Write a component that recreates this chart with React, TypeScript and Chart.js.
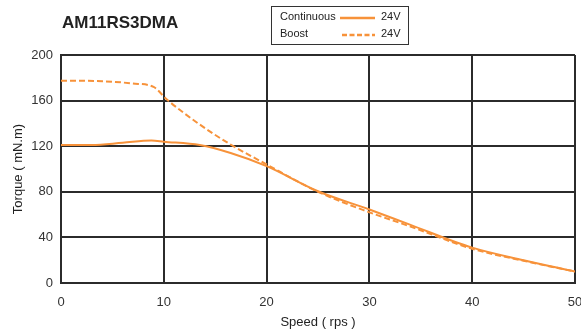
import React, { useEffect, useRef } from "react";
import { Chart, registerables } from "chart.js";

Chart.register(...registerables);

const TITLE = "AM11RS3DMA";
const X_LABEL = "Speed ( rps )";
const Y_LABEL = "Torque ( mN.m)";

const contSpeed = [0, 3, 6, 8.8, 10, 13.5, 16.5, 20, 25, 30, 34, 40, 45, 50];
const contTorque = [121, 121, 123, 125, 124, 121, 114, 102.5, 80.5, 64.5, 51, 31, 20, 10];

const boostSpeed = [0, 4, 7, 9, 10.3, 13.5, 16.4, 20, 25, 30, 34, 40, 45, 50];
const boostTorque = [177.5, 177, 175, 172, 161, 139, 122, 104, 80, 62, 49.5, 30, 19.5, 10];

const legendNames = ["Continuous", "Boost"];
const legendVoltage = ["24V", "24V"];

const ORANGE = "#F7923A";
const GRID = "#2b2b2b";
const FONT = "'Liberation Sans', Arial, sans-serif";

const overlayPlugin = {
  id: "overlay",
  afterDraw(chart: any) {
    const ctx = chart.ctx;
    ctx.save();
    ctx.fillStyle = "#222";
    ctx.font = `bold 17px ${FONT}`;
    ctx.textBaseline = "middle";
    ctx.textAlign = "left";
    ctx.fillText(TITLE, 62, 23);
    ctx.strokeStyle = "#333";
    ctx.lineWidth = 1;
    ctx.strokeRect(271.5, 6.5, 137, 38);
    ctx.font = `11px ${FONT}`;
    ctx.fillStyle = "#222";
    const rows = [17, 34];
    rows.forEach((y, i) => {
      ctx.fillText(legendNames[i], 280, y);
      ctx.fillText(legendVoltage[i], 381, y);
      ctx.beginPath();
      ctx.strokeStyle = ORANGE;
      ctx.lineWidth = 2.5;
      ctx.setLineDash(i === 0 ? [] : [5, 2.5]);
      ctx.moveTo(i === 0 ? 340 : 342, y + 1);
      ctx.lineTo(375, y + 1);
      ctx.stroke();
    });
    ctx.restore();
  },
};

export default function App() {
  const ref = useRef<HTMLCanvasElement>(null);
  useEffect(() => {
    document.body.style.margin = "0";
    const chart = new Chart(ref.current!, {
      type: "line",
      data: {
        datasets: [
          {
            label: "Continuous 24V",
            data: contSpeed.map((x, i) => ({ x, y: contTorque[i] })),
            borderColor: ORANGE,
            borderWidth: 2,
            pointRadius: 0,
            cubicInterpolationMode: "monotone",
          },
          {
            label: "Boost 24V",
            data: boostSpeed.map((x, i) => ({ x, y: boostTorque[i] })),
            borderColor: ORANGE,
            borderWidth: 2,
            borderDash: [6, 3],
            pointRadius: 0,
            cubicInterpolationMode: "monotone",
          },
        ],
      },
      options: {
        animation: false,
        responsive: false,
        layout: { padding: { left: 0, right: 6, top: 55, bottom: 0 } },
        plugins: { legend: { display: false }, tooltip: { enabled: false } },
        scales: {
          x: {
            type: "linear",
            min: 0,
            max: 50,
            ticks: { stepSize: 10, color: "#333", font: { family: FONT, size: 13 }, padding: 12 },
            grid: { color: GRID, lineWidth: 2, drawTicks: false },
            border: { color: GRID, width: 2 },
            title: { display: true, text: X_LABEL, color: "#222", font: { family: FONT, size: 13 }, padding: { top: 0, bottom: 6 } },
            afterFit: (s: any) => { s.height = 53; s.paddingLeft = 0; s.paddingRight = 0; },
          },
          y: {
            min: 0,
            max: 200,
            ticks: { stepSize: 40, color: "#333", font: { family: FONT, size: 13 }, padding: 8 },
            grid: { color: GRID, lineWidth: 2, drawTicks: false },
            border: { color: GRID, width: 2 },
            title: { display: true, text: Y_LABEL, color: "#222", font: { family: FONT, size: 13 }, padding: { top: 11, bottom: 0 } },
            afterFit: (s: any) => { s.width = 61; s.paddingTop = 0; s.paddingBottom = 0; },
          },
        },
      },
      plugins: [overlayPlugin],
    });
    return () => chart.destroy();
  }, []);
  return <canvas ref={ref} width={581} height={336} style={{ display: "block" }} />;
}
